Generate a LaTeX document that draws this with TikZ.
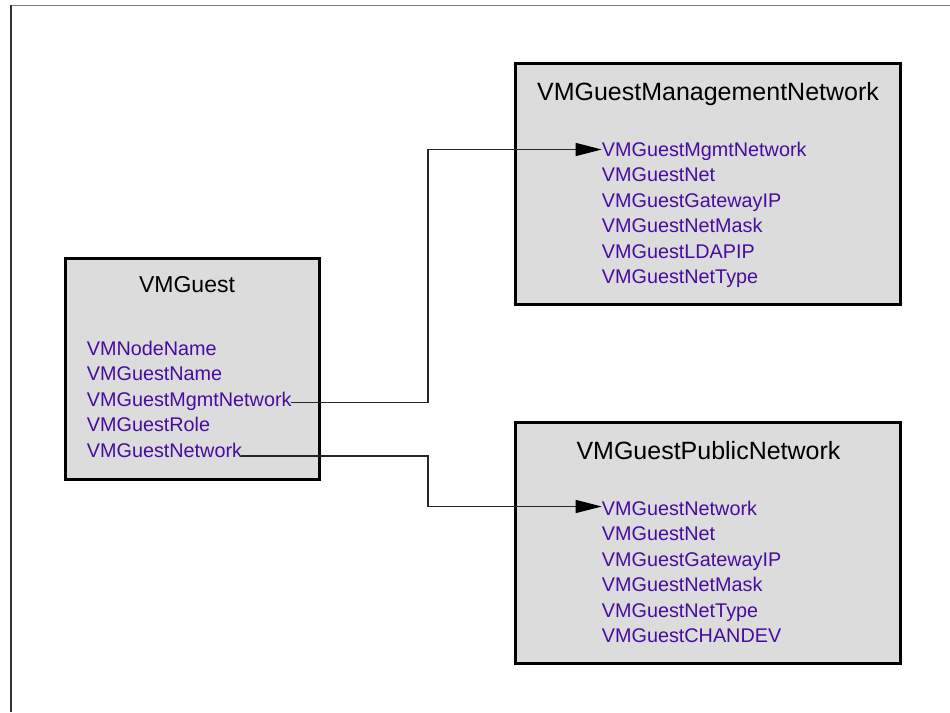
\documentclass[tikz,border=0pt]{standalone}
\usepackage{fontspec}
\setmainfont{Liberation Sans}
\usetikzlibrary{calc,arrows.meta}
\definecolor{attr}{RGB}{72,12,160}
\definecolor{boxfill}{RGB}{220,220,220}
\tikzset{
  box/.style={draw=black, line width=3pt, fill=boxfill, rectangle, inner sep=0pt},
  titletext/.style={anchor=base, inner sep=0pt, font=\fontsize{25}{28}\selectfont},
  attrtext/.style={anchor=base west, inner sep=0pt, text=attr, font=\fontsize{19.8}{23}\selectfont},
  conn/.style={draw=black!85, line width=1.2pt},
  tip/.style={-{Triangle[length=26pt,width=13pt,color=black]}}
}
\begin{document}
\begin{tikzpicture}[x=1pt,y=-1pt]
\useasboundingbox (0,0) rectangle (950,712);
% frame
\draw[black!50, line width=1.5pt] (10,5.5) -- (950,5.5);
\draw[black!80, line width=1.5pt] (10.75,5) -- (10.75,712);

% boxes
\node[box, minimum width=254pt, minimum height=221pt] (guest) at (192.5,369) {};
\node[box, minimum width=385pt, minimum height=241pt] (mgmt) at (708,184) {};
\node[box, minimum width=384.5pt, minimum height=240.5pt] (pub) at (707.75,542.75) {};

% titles
\node[titletext, font=\fontsize{23}{27}\selectfont] (guestT) at (187,292) {VMGuest};
\node[titletext] (mgmtT) at (708,100) {VMGuestManagementNetwork};
\node[titletext] (pubT) at (708.5,459.3) {VMGuestPublicNetwork};

% VMGuest attributes
\node[attrtext] (g1) at (86.7,355) {VMNodeName};
\node[attrtext] (g2) at (86.7,380.5) {VMGuestName};
\node[attrtext] (g3) at (86.7,406) {VMGuestMgmtNetwork};
\node[attrtext] (g4) at (86.7,431.5) {VMGuestRole};
\node[attrtext] (g5) at (86.7,457) {VMGuestNetwork};

% management network attributes
\node[attrtext] (m1) at (601.7,156) {VMGuestMgmtNetwork};
\node[attrtext] (m2) at (601.7,181.5) {VMGuestNet};
\node[attrtext] (m3) at (601.7,207) {VMGuestGatewayIP};
\node[attrtext] (m4) at (601.7,232.5) {VMGuestNetMask};
\node[attrtext] (m5) at (601.7,258) {VMGuestLDAPIP};
\node[attrtext] (m6) at (601.7,283.5) {VMGuestNetType};

% public network attributes
\node[attrtext] (p1) at (601.7,515) {VMGuestNetwork};
\node[attrtext] (p2) at (601.7,540.5) {VMGuestNet};
\node[attrtext] (p3) at (601.7,566) {VMGuestGatewayIP};
\node[attrtext] (p4) at (601.7,591.5) {VMGuestNetMask};
\node[attrtext] (p5) at (601.7,617) {VMGuestNetType};
\node[attrtext] (p6) at (601.7,642.5) {VMGuestCHANDEV};

% connectors
\coordinate (bendx) at (428,0);
\coordinate (s1) at ($(g3.base east)+(-1,-3.5)$);
\coordinate (t1) at ($(m1.base west)+(0,-6.5)$);
\coordinate (s2) at ($(g5.base east)+(-1,-1)$);
\coordinate (t2) at ($(p1.base west)+(0,-8.5)$);
\draw[conn, tip] (s1) -- (s1 -| bendx) |- (t1);
\draw[conn, tip] (s2) -- (s2 -| bendx) |- (t2);
\end{tikzpicture}
\end{document}
